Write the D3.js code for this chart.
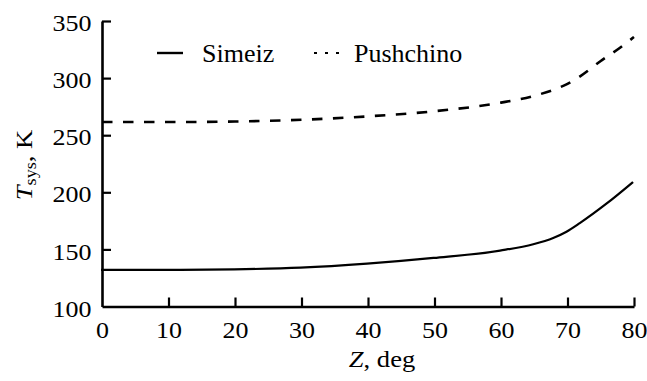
<!DOCTYPE html>
<html>
<head>
<meta charset="utf-8">
<script src="https://cdn.jsdelivr.net/npm/d3@7"></script>
</head>
<body style="margin:0;background:#fff">
<svg id="chart" width="647" height="381" font-family="Liberation Serif"></svg>
<script>
// ---- data ----
const zenith = [0, 10, 20, 30, 40, 50, 60, 65, 68, 70, 72, 76, 80];
const simeiz = [132, 132, 132.5, 134, 137.5, 142.5, 149, 154.5, 160, 165.5, 173, 190, 209];
const pushZenith = [0, 10, 20, 30, 40, 50, 60, 65, 68, 70, 72, 75, 78, 80];
const pushchino = [261.5, 261.5, 262, 263.5, 266.5, 271, 278.5, 284.5, 290, 295, 302, 315, 327, 336];
const seriesNames = ["Simeiz", "Pushchino"];
const xTicks = [0, 10, 20, 30, 40, 50, 60, 70, 80];
const yTicks = [100, 150, 200, 250, 300, 350];

const FONT = "Liberation Serif";
const SX = 1.13; // horizontal stretch of axis text
const svg = d3.select("#chart");
const x = d3.scaleLinear().domain([0, 80]).range([102, 634]);
const y = d3.scaleLinear().domain([100, 350]).range([306.5, 21]);

// axes
const yAxis = d3.axisLeft(y).tickValues(yTicks).tickSizeInner(-9).tickSizeOuter(0).tickPadding(11);
const xAxis = d3.axisBottom(x).tickValues(xTicks).tickSizeInner(-9).tickSizeOuter(0).tickPadding(15.5);

const gy = svg.append("g").attr("transform", `translate(${x(0)},0)`).call(yAxis);
const gx = svg.append("g").attr("transform", `translate(0,${y(100)})`).call(xAxis);

[gx, gy].forEach(g => {
  g.attr("font-family", FONT).attr("font-size", 23);
  g.select(".domain").attr("stroke", "#000").attr("stroke-width", 2.6);
  g.selectAll(".tick line").attr("stroke", "#000").attr("stroke-width", 2.2);
  g.selectAll(".tick text").attr("font-family", FONT).style("font-family", FONT)
    .attr("font-size", 23).attr("fill", "#000");
});
gy.selectAll(".tick text").attr("x", 0).attr("dy", "0.42em")
  .attr("transform", `translate(-10.5,0) scale(${SX},1)`);
gx.selectAll(".tick text").attr("transform", `scale(${SX},1)`);
// no tick marks at the corner
gy.selectAll(".tick").filter(d => d === 100).select("line").remove();
gx.selectAll(".tick").filter(d => d === 0).select("line").remove();

// lines
const lineS = d3.line().x((d, i) => x(zenith[i])).y(d => y(d)).curve(d3.curveMonotoneX);
const lineP = d3.line().x((d, i) => x(pushZenith[i])).y(d => y(d)).curve(d3.curveMonotoneX);

svg.append("path").datum(simeiz)
  .attr("d", lineS).attr("fill", "none").attr("stroke", "#000").attr("stroke-width", 2.2)
  .attr("transform", "translate(-1,0)");
svg.append("path").datum(pushchino)
  .attr("d", lineP).attr("fill", "none").attr("stroke", "#000").attr("stroke-width", 2.6)
  .attr("stroke-dasharray", "10.5,10.5");

function txt(sel, size) {
  return sel.attr("font-family", FONT).style("font-family", FONT).attr("font-size", size).attr("fill", "#000");
}

// legend
const leg = svg.append("g");
leg.append("line").attr("x1", 157).attr("x2", 183).attr("y1", 53).attr("y2", 53)
  .attr("stroke", "#000").attr("stroke-width", 2.4);
txt(leg.append("text").attr("x", 202).attr("y", 61.5), 26).text(seriesNames[0]);
leg.append("line").attr("x1", 314).attr("x2", 346).attr("y1", 53).attr("y2", 53)
  .attr("stroke", "#000").attr("stroke-width", 2.2).attr("stroke-dasharray", "3,8");
txt(leg.append("text").attr("x", 354).attr("y", 61.5), 26).text(seriesNames[1]);

// axis titles
const xt = txt(svg.append("text").attr("transform", `translate(382,367) scale(${SX},1)`)
  .attr("text-anchor", "middle"), 23.5);
xt.append("tspan").attr("font-style", "italic").text("Z");
xt.append("tspan").text(", deg");

const yt = txt(svg.append("text").attr("transform", `translate(32,165) rotate(-90) scale(${SX},1)`)
  .attr("text-anchor", "middle"), 23.5);
yt.append("tspan").attr("font-style", "italic").text("T");
yt.append("tspan").attr("font-size", 16).attr("dy", 4).text("sys");
yt.append("tspan").attr("dy", -4).text(", K");
</script>
</body>
</html>
